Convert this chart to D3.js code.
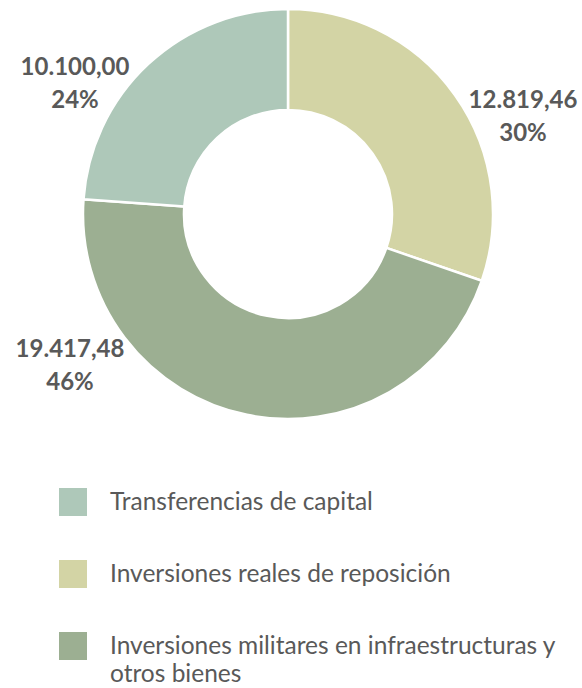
<!DOCTYPE html>
<html><head><meta charset="utf-8">
<script src="https://cdn.jsdelivr.net/npm/d3@7"></script>
<style>body{margin:0;background:#fff}svg{display:block}</style>
</head><body>
<script>
const categories = ["Inversiones reales de reposición", "Inversiones militares en infraestructuras y otros bienes", "Transferencias de capital"];
const values = [12819.46, 19417.48, 10100.00];
const valueLabels = ["12.819,46", "19.417,48", "10.100,00"];
const colors = ["#d3d4a5", "#9caf92", "#aec8b9"];
const legendOrder = [2, 0, 1];
const legendLines = [["Transferencias de capital"], ["Inversiones reales de reposición"], ["Inversiones militares en infraestructuras y", "otros bienes"]];

const W = 582, H = 688, cx = 288, cy = 214, R = 205, r0 = 104;
const labelPos = [[523, 108, "middle"], [70, 357, "middle"], [75, 75, "middle"]];

const svg = d3.select("body").append("svg").attr("width", W).attr("height", H);
const total = d3.sum(values);
const pie = d3.pie().sort(null).value(d => d)(values);
const arc = d3.arc().innerRadius(r0).outerRadius(R);
const g = svg.append("g").attr("transform", `translate(${cx},${cy})`);
g.selectAll("path").data(pie).join("path")
  .attr("d", arc).attr("fill", (d, i) => colors[i])
  .attr("stroke", "#fff").attr("stroke-width", 2.5);

const fmtPct = v => Math.round(v / total * 100) + "%";
const lab = svg.append("g").attr("font-family", "Lato, 'Open Sans', sans-serif")
  .attr("font-weight", "bold").attr("font-size", 24).attr("fill", "#595959");
values.forEach((v, i) => {
  const [x, y, a] = labelPos[i];
  const t = lab.append("text").attr("x", x).attr("y", y).attr("text-anchor", a);
  t.append("tspan").attr("x", x).text(valueLabels[i]);
  t.append("tspan").attr("x", x).attr("dy", 33).text(fmtPct(v));
});

const leg = svg.append("g").attr("font-family", "Lato, 'Open Sans', sans-serif")
  .attr("font-size", 24.5).attr("fill", "#595959");
legendOrder.forEach((ci, k) => {
  const y0 = 488 + k * 72;
  leg.append("rect").attr("x", 59).attr("y", y0).attr("width", 28).attr("height", 28).attr("fill", colors[ci]);
  legendLines[k].forEach((ln, j) => {
    leg.append("text").attr("x", 110).attr("y", y0 + 22 + j * 28).text(ln);
  });
});
</script>
</body></html>
